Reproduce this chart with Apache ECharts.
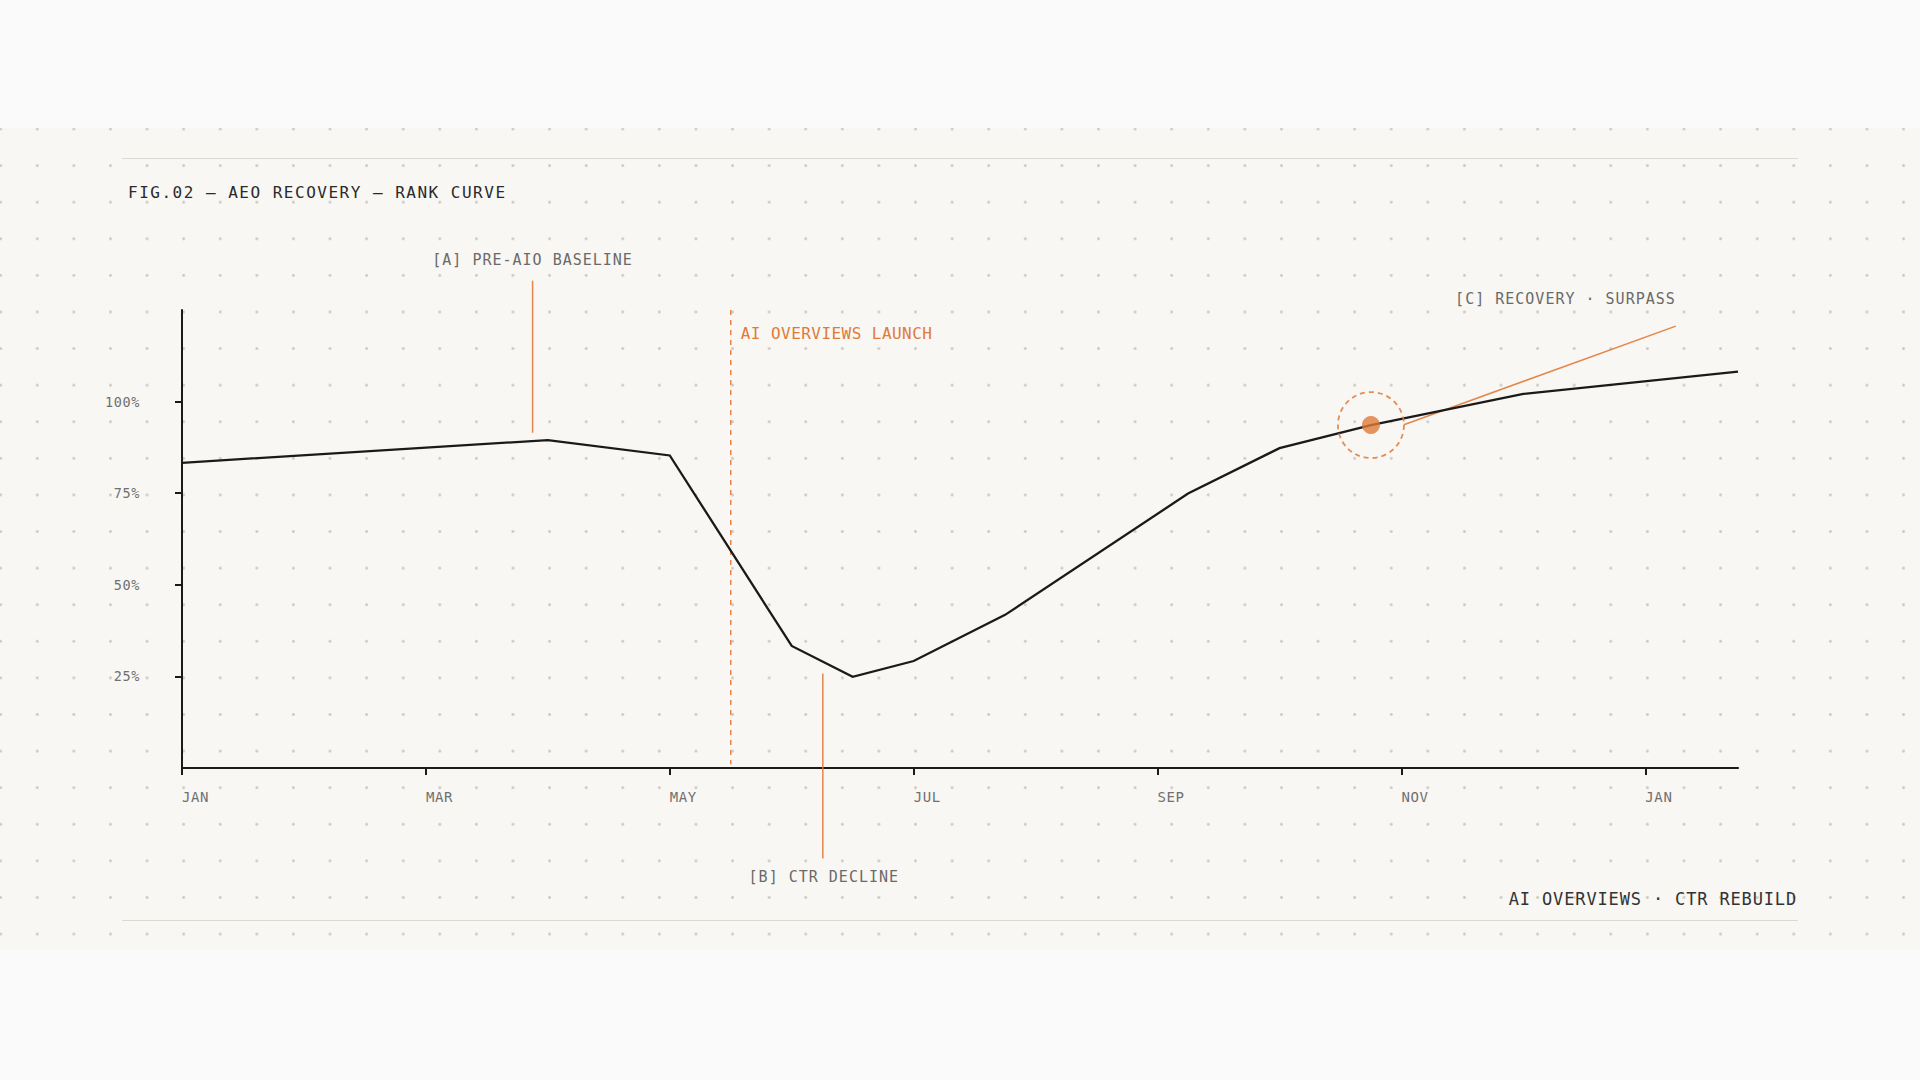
<!DOCTYPE html>
<html>
<head>
<meta charset="utf-8">
<script src="https://cdn.jsdelivr.net/npm/echarts@6/dist/echarts.min.js"></script>
<style>
html,body{margin:0;padding:0;width:1920px;height:1080px;background:#fafafa;overflow:hidden}
#panel{position:absolute;left:0;top:128px;width:1920px;height:822px;background-color:#f8f7f3;
  background-image:radial-gradient(circle, #cecbc3 0, #cecbc3 1.1px, rgba(206,203,195,0) 1.7px);
  background-size:36.6px 36.6px;background-position:-17.63px -17.3px;}
#chart{position:absolute;left:0;top:0;width:1920px;height:1080px}
#chart text[fill="#2a2a2a"]{letter-spacing:1.5px}
#chart text[fill="#333333"]{letter-spacing:0.85px}
#chart text[fill="#6a6a6a"]{letter-spacing:1px}
#chart text[fill="#e07a3a"]{letter-spacing:0.45px}
#chart text[fill="#707070"]{letter-spacing:0.6px}
</style>
</head>
<body>
<div id="panel"></div>
<div id="chart"></div>
<script>
// ---- data ----
const monthPos = [0, 3, 4, 5, 5.5, 6, 6.75, 8.25, 9, 9.75, 11, 12.76];
const rankIndex = [83.3, 89.5, 85.3, 33.3, 24.9, 29.2, 41.8, 74.9, 87.3, 93.6, 102.1, 108.2];
const xTickValues = [0, 2, 4, 6, 8, 10, 12];
const xTickLabels = ['JAN', 'MAR', 'MAY', 'JUL', 'SEP', 'NOV', 'JAN'];
const yTickValues = [25, 50, 75, 100];
const surpassPoint = [9.75, 93.6];
const launchX = 4.5;
const launchSpan = [125, 1];
const launchLabel = 'AI OVERVIEWS LAUNCH';
const calloutLabels = ['[A] PRE-AIO BASELINE', '[B] CTR DECLINE', '[C] RECOVERY · SURPASS'];
const calloutFrom = [[2.875, 133.0], [5.255, 25.8], [10.02, 93.7]];
const calloutTo = [[2.875, 91.5], [5.255, -24.7], [12.25, 120.6]];
const titleText = 'FIG.02 — AEO RECOVERY — RANK CURVE';
const footerText = 'AI OVERVIEWS · CTR REBUILD';

// ---- styling ----
const MONO = "'DejaVu Sans Mono', monospace";
const ORANGE = '#e07a3a';
const INK = '#1a1a1a';
// label placement per callout: which end, offset, alignment
const calloutLayout = [
  {end: 'from', dx: 0, dy: -21, align: 'center'},
  {end: 'to', dx: 1, dy: 18.5, align: 'center'},
  {end: 'to', dx: 0, dy: -27, align: 'right'}
];

const curve = monthPos.map((m, i) => [m, rankIndex[i]]);
const calloutData = calloutFrom.map((f, i) => [f[0], f[1], calloutTo[i][0], calloutTo[i][1]]);

const chart = echarts.init(document.getElementById('chart'), null, {renderer: 'svg'});
chart.setOption({
  animation: false,
  backgroundColor: 'transparent',
  grid: {left: 182, right: 182, top: 310, bottom: 312, containLabel: false, outerBoundsMode: 'none'},
  xAxis: {
    type: 'value', min: 0, max: monthPos[monthPos.length - 1], interval: 2,
    splitLine: {show: false},
    axisLine: {show: true, onZero: false, lineStyle: {color: INK, width: 2}},
    axisTick: {show: true, customValues: xTickValues, length: 7, inside: false, lineStyle: {color: INK, width: 2}},
    axisLabel: {
      customValues: xTickValues, align: 'left', verticalAlign: 'middle', margin: 29,
      color: '#707070', fontFamily: MONO, fontSize: 14,
      formatter: v => xTickLabels[xTickValues.indexOf(v)] || ''
    }
  },
  yAxis: {
    type: 'value', min: 0, max: 125, interval: 25,
    splitLine: {show: false},
    axisLine: {show: true, lineStyle: {color: INK, width: 2}},
    axisTick: {show: true, customValues: yTickValues, length: 7, inside: false, lineStyle: {color: INK, width: 2}},
    axisLabel: {
      customValues: yTickValues, margin: 42, color: '#707070', fontFamily: MONO, fontSize: 13.5,
      formatter: v => v + '%'
    }
  },
  graphic: [
    {type: 'line', shape: {x1: 122, y1: 158.5, x2: 1798, y2: 158.5}, style: {stroke: '#dcd9d2', lineWidth: 1}, silent: true},
    {type: 'line', shape: {x1: 122, y1: 920.5, x2: 1798, y2: 920.5}, style: {stroke: '#dcd9d2', lineWidth: 1}, silent: true},
    {type: 'text', x: 128, y: 192, silent: true,
      style: {text: titleText, fill: '#2a2a2a', fontFamily: MONO, fontSize: 16, align: 'left', verticalAlign: 'middle'}},
    {type: 'text', x: 1797, y: 899, silent: true,
      style: {text: footerText, fill: '#333333', fontFamily: MONO, fontSize: 17, align: 'right', verticalAlign: 'middle'}}
  ],
  series: [
    {
      type: 'custom', name: 'launch', silent: true, z: 1,
      data: [[launchX, launchSpan[0], launchX, launchSpan[1]]],
      encode: {x: [0, 2], y: [1, 3]},
      renderItem: (params, api) => {
        const p1 = api.coord([api.value(0), api.value(1)]);
        const p2 = api.coord([api.value(2), api.value(3)]);
        return {type: 'group', children: [
          {type: 'line', shape: {x1: p1[0], y1: p1[1], x2: p2[0], y2: p2[1]},
            style: {stroke: ORANGE, lineWidth: 1.5, lineDash: [5, 5], opacity: 0.9}},
          {type: 'text', x: p1[0] + 10, y: p1[1] + 23,
            style: {text: launchLabel, fill: ORANGE, fontFamily: MONO, fontSize: 16, align: 'left', verticalAlign: 'middle'}}
        ]};
      }
    },
    {
      type: 'custom', name: 'callouts', silent: true, z: 1,
      data: calloutData,
      encode: {x: [0, 2], y: [1, 3]},
      renderItem: (params, api) => {
        const i = params.dataIndex;
        const p1 = api.coord([api.value(0), api.value(1)]);
        const p2 = api.coord([api.value(2), api.value(3)]);
        const L = calloutLayout[i];
        const a = L.end === 'from' ? p1 : p2;
        return {type: 'group', children: [
          {type: 'line', shape: {x1: p1[0], y1: p1[1], x2: p2[0], y2: p2[1]},
            style: {stroke: ORANGE, lineWidth: 1.5, opacity: 0.9}},
          {type: 'text', x: a[0] + L.dx, y: a[1] + L.dy,
            style: {text: calloutLabels[i], fill: '#6a6a6a', fontFamily: MONO, fontSize: 15, align: L.align, verticalAlign: 'middle'}}
        ]};
      }
    },
    {
      type: 'line', name: 'rank', data: curve, symbol: 'none', z: 2, silent: true,
      lineStyle: {color: INK, width: 2.3, join: 'miter'}
    },
    {
      type: 'scatter', name: 'ring', data: [surpassPoint], symbol: 'circle', symbolSize: 66, z: 3, silent: true,
      itemStyle: {color: 'transparent', borderColor: ORANGE, borderWidth: 1.8, borderType: [5, 4], opacity: 0.85}
    },
    {
      type: 'scatter', name: 'surpass', data: [surpassPoint], symbol: 'circle', symbolSize: 18, z: 4, silent: true,
      itemStyle: {color: ORANGE}
    }
  ]
});
</script>
</body>
</html>
